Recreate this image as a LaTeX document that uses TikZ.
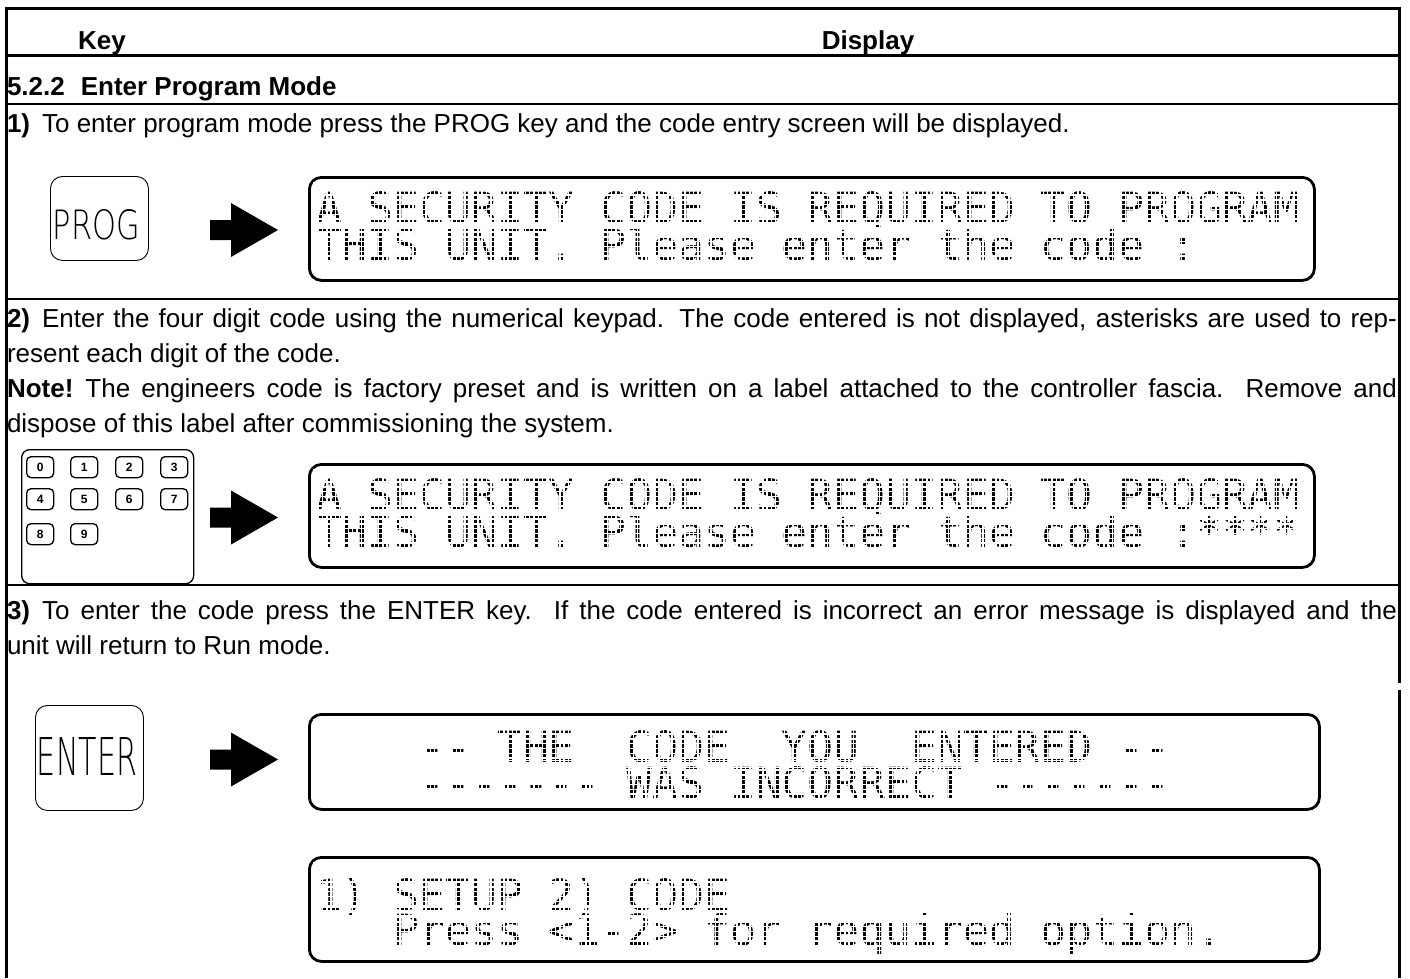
\documentclass[tikz,border=0pt]{standalone}
\usepackage{fontspec}
\usepackage{graphicx}
\setmainfont{Liberation Sans}
\setmonofont{DejaVu Sans Mono}
% thin face for the lettering on the large keys, first one available wins
\newcommand\trykeyfont[2]{\IfFontExistsTF{#1}{\newfontfamily\keyfont{#1}}{#2}}
\trykeyfont{DejaVu Sans ExtraLight}{%
  \trykeyfont{Fira Sans Light}{%
    \trykeyfont{Lato Light}{%
      \trykeyfont{Poppins Light}{%
        \newfontfamily\keyfont{Fira Sans}}}}}
% white grid laid over a display's text so the glyphs break up into dots
% #1,#2: left/right, #3,#4: top/bottom of the glass, #5,#6: baselines
\newcommand\lcdmask[6]{%
  \begin{scope}
    \clip (#1,#3) rectangle (#2,#4);
    \foreach \k in {-1,...,232}
      \draw[maskline] ({316+(\k+0.5)*4.3167},#3) -- ({316+(\k+0.5)*4.3167},#4);
    \foreach \bl in {#5,#6}{
      \foreach \k in {-2,...,7}
        \draw[maskline] (#1,{\bl-3.9-4.8*\k}) -- (#2,{\bl-3.9-4.8*\k});
    }
  \end{scope}}
\begin{document}
\begin{tikzpicture}[x=1pt,y=-1pt,
  frame/.style={line width=3pt},
  rule/.style={line width=2pt},
  body/.style={anchor=base west,inner sep=0pt,outer sep=0pt,font=\fontsize{26}{30}\selectfont},
  bodybold/.style={body,font=\fontsize{26}{30}\selectfont\bfseries},
  headtxt/.style={anchor=base,inner sep=0pt,outer sep=0pt,font=\fontsize{26}{30}\selectfont\bfseries},
  lcdbox/.style={draw,line width=2.8pt,rounded corners=12pt,inner sep=0pt,anchor=north west},
  lcdline/.style={anchor=base west,inner sep=0pt,outer sep=0pt,text=black,
    font=\fontsize{43}{43}\ttfamily\frenchspacing},
  maskline/.style={white,line width=1.5pt},
  keybig/.style={draw,line width=0.9pt,rounded corners=12pt,inner sep=0pt,anchor=north west},
  keylabel/.style={inner sep=0pt,outer sep=0pt,text=black},
  padframe/.style={draw,line width=1.3pt,rounded corners=8pt,inner sep=0pt,anchor=north west},
  padkey/.style={draw,line width=1.3pt,rounded corners=4.5pt,inner sep=0pt,anchor=north west,
    minimum width=27pt,minimum height=21pt,font=\fontsize{12}{12}\selectfont\bfseries},
  blockarrow/.pic={\fill (0,-10) -- (21,-10) -- (21,-27) -- (68,0) -- (21,27) -- (21,10) -- (0,10) -- cycle;}
]
\useasboundingbox (0,0) rectangle (1410,978);

% table frame and row rules
\draw[frame] (6,978) -- (6,8) -- (1399.5,8) -- (1399.5,683);
\draw[frame] (1399.5,690) -- (1399.5,978);
\draw[frame] (6,55) -- (1399.5,55);
\draw[rule] (6,103.5) -- (1399.5,103.5);
\draw[rule] (6,298.5) -- (1399.5,298.5);
\draw[rule] (6,585) -- (1399.5,585);

% header
\node[headtxt] (hkey) at (102,49) {Key};
\node[headtxt] (hdisp) at (868,49) {Display};
\node[bodybold] (sect) at (7,95) {5.2.2\hspace{16pt}Enter Program Mode};

% step 1
\node[body] (s1a) at (7,132) {\textbf{1)}\hspace{12pt}To enter program mode press the PROG key and the code entry screen will be displayed.};
\node[keybig,minimum width=98pt,minimum height=84pt] (prog) at (50,176) {};
\node[keylabel] (progtxt) at (96.5,225) {\resizebox{87pt}{30pt}{\keyfont PROG}};
\pic at (210,230) {blockarrow};
\node[lcdbox,minimum width=1005pt,minimum height=103pt] (lcd1) at (308,176) {};
\node[lcdline] (lcd1a) at (316,223) {A~SECURITY~CODE~IS~REQUIRED~TO~PROGRAM};
\node[lcdline] (lcd1b) at (316,260) {THIS~UNIT.~Please~enter~the~code~:};
\lcdmask{312}{1307}{182}{273}{223}{260}

% step 2
\node[body] (s2a) at (7,327) {\hbox to 1390pt{\textbf{2)}\hspace{12pt}Enter the four digit code using the numerical keypad. The code entered is not displayed, asterisks are used to rep-}};
\node[body] (s2b) at (7,362) {resent each digit of the code.};
\node[body] (s2c) at (7,397) {\hbox to 1390pt{\textbf{Note!}\hspace{12pt}The engineers code is factory preset and is written on a label attached to the controller fascia.\ \ Remove and}};
\node[body] (s2d) at (7,432) {dispose of this label after commissioning the system.};
\node[padframe,minimum width=172pt,minimum height=134pt] (pad) at (21,449) {};
\foreach \d/\x/\y in {0/26/456,1/70/456,2/115/456,3/160/456,
                      4/26/488,5/70/488,6/115/488,7/160/488,
                      8/26/523,9/70/523}
  \node[padkey] (k\d) at (\x,\y) {\d};
\pic at (210,517.5) {blockarrow};
\node[lcdbox,minimum width=1005pt,minimum height=103pt] (lcd2) at (308,463) {};
\node[lcdline] (lcd2a) at (316,510) {A~SECURITY~CODE~IS~REQUIRED~TO~PROGRAM};
\node[lcdline] (lcd2b) at (316,547) {THIS~UNIT.~Please~enter~the~code~:****};
\lcdmask{312}{1307}{469}{560}{510}{547}

% step 3
\node[body] (s3a) at (7,619) {\hbox to 1390pt{\textbf{3)}\hspace{12pt}To enter the code press the ENTER key.\ \ If the code entered is incorrect an error message is displayed and the}};
\node[body] (s3b) at (7,654) {unit will return to Run mode.};
\node[keybig,minimum width=108pt,minimum height=105pt] (enter) at (35,705) {};
\node[keylabel] (entertxt) at (87,756) {\resizebox{100pt}{38pt}{\keyfont ENTER}};
\pic at (210,759.5) {blockarrow};
\node[lcdbox,minimum width=1010pt,minimum height=95pt] (lcd3) at (308,713) {};
\node[lcdline] (lcd3a) at (316,762) {~~~~--~THE~~CODE~~YOU~~ENTERED~--};
\node[lcdline] (lcd3b) at (316,798) {~~~~-------~WAS~INCORRECT~-------};
\lcdmask{312}{1312}{719}{802}{762}{798}
\node[lcdbox,minimum width=1010pt,minimum height=104pt] (lcd4) at (308,856) {};
\node[lcdline] (lcd4a) at (316,910) {1)~SETUP~2)~CODE};
\node[lcdline] (lcd4b) at (316,945) {~~~Press~<1-2>~for~required~option.};
\lcdmask{312}{1312}{862}{954}{910}{945}
\end{tikzpicture}
\end{document}
